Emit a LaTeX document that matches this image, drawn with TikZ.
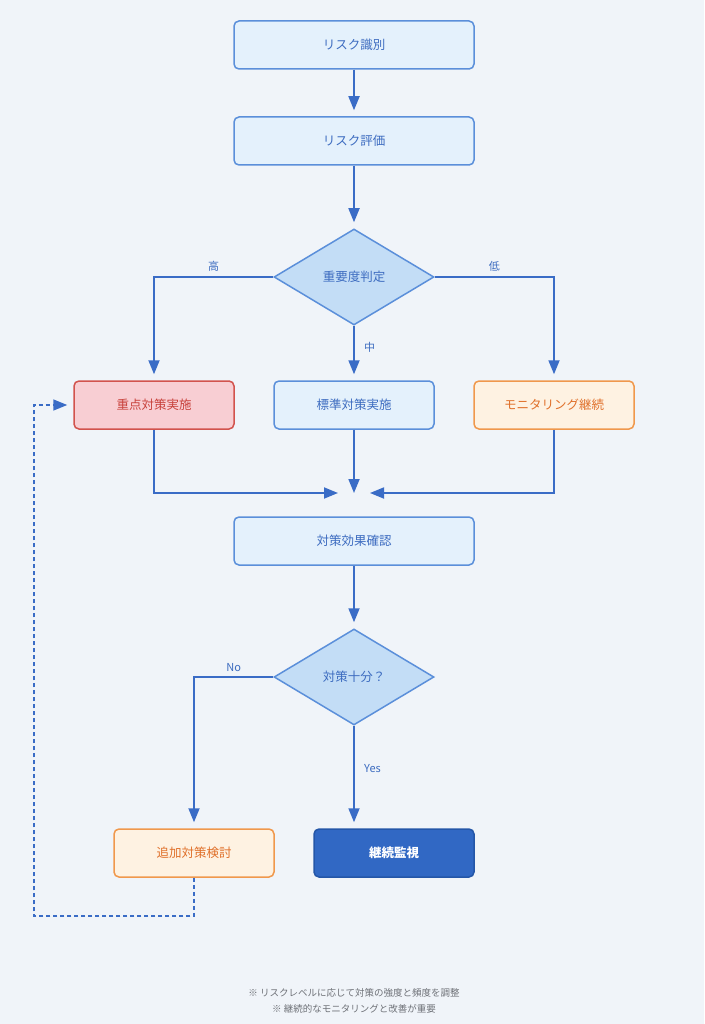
\documentclass[tikz,border=0pt]{standalone}
\usepackage{fontspec}
\setmainfont{Noto Sans CJK JP}
\usetikzlibrary{arrows.meta,shapes.geometric}
\definecolor{bgc}{HTML}{F0F4F9}
\definecolor{lnc}{HTML}{3A6CC6}
\definecolor{bluefill}{HTML}{E4F1FC}
\definecolor{blueline}{HTML}{5B8FDA}
\definecolor{bluetext}{HTML}{3D6CC0}
\definecolor{diafill}{HTML}{C3DDF6}
\definecolor{redfill}{HTML}{F8CED3}
\definecolor{redline}{HTML}{D2534D}
\definecolor{redtext}{HTML}{C8413B}
\definecolor{orfill}{HTML}{FEF2E2}
\definecolor{orline}{HTML}{F0984C}
\definecolor{ortext}{HTML}{E0702A}
\definecolor{darkfill}{HTML}{3168C4}
\definecolor{darkline}{HTML}{2456A8}
\definecolor{notec}{HTML}{6E7177}
\tikzset{
  box/.style={rectangle,rounded corners=5pt,line width=1.5pt,draw=blueline,fill=bluefill,
    text=bluetext,font=\fontsize{12.5}{14}\selectfont,minimum height=48pt,inner sep=0pt},
  bigbox/.style={box,minimum width=240pt},
  smallbox/.style={box,minimum width=160pt},
  redbox/.style={smallbox,draw=redline,fill=redfill,text=redtext},
  orbox/.style={smallbox,draw=orline,fill=orfill,text=ortext},
  darkbox/.style={smallbox,draw=darkline,fill=darkfill,text=white,font=\fontsize{12.5}{14}\selectfont\bfseries},
  decide/.style={diamond,aspect=1.6667,line width=1.5pt,draw=blueline,fill=diafill,text=bluetext,
    font=\fontsize{12.5}{14}\selectfont,minimum width=160pt,minimum height=96pt,inner sep=0pt},
  flow/.style={line width=1.8pt,draw=lnc,shorten >=6pt,-{Triangle[width=11pt,length=14pt]}},
  lbl/.style={text=bluetext,font=\fontsize{11}{13}\selectfont},
  note/.style={text=notec,font=\fontsize{9.5}{11}\selectfont}
}
\begin{document}
\begin{tikzpicture}[x=1pt,y=-1pt]
\fill[bgc] (0,0) rectangle (704,1024);
\useasboundingbox (0,0) rectangle (704,1024);

\node[bigbox] (ident) at (354,45)  {リスク識別};
\node[bigbox] (eval)  at (354,141) {リスク評価};
\node[decide] (judge) at (354,277) {重要度判定};

\node[redbox]   (high) at (154,405) {重点対策実施};
\node[smallbox] (mid)  at (354,405) {標準対策実施};
\node[orbox]    (low)  at (554,405) {モニタリング継続};

\coordinate (merge) at (354,499);
\node[bigbox] (check) at (354,541) {対策効果確認};
\node[decide] (enough) at (354,677) {対策十分？};

\node[orbox]   (more)  at (194,853) {追加対策検討};
\node[darkbox] (watch) at (394,853) {継続監視};

\draw[flow] (ident) -- (eval);
\draw[flow] (eval) -- (judge);
\draw[flow] (judge.west) -| (high.north) node[lbl,pos=0.25,above=1pt] {高};
\draw[flow] (judge.east) -| (low.north) node[lbl,pos=0.25,above=1pt] {低};
\draw[flow] (judge.south) -- (mid.north) node[lbl,pos=0.4,right=6pt] {中};

\draw[flow] (high.south) |- ([xshift=-10pt]merge |- 0,493);
\draw[flow] (mid.south) -- (merge);
\draw[flow] (low.south) |- ([xshift=10pt]merge |- 0,493);

\draw[flow] (check) -- (enough);
\draw[flow] (enough.west) -| (more.north) node[lbl,pos=0.25,above=1pt] {No};
\draw[flow] (enough.south) -- (enough.south |- watch.north) node[lbl,pos=0.42,right=6pt] {Yes};

% feedback loop
\coordinate (loopa) at (194,916);
\coordinate (loopb) at (34,916);
\draw[flow,dashed,dash pattern=on 4pt off 3pt,line width=1.5pt] (more.south) -- (loopa) -- (loopb) |- (high.west);

\node[note] (note1) at (354,993) {※ リスクレベルに応じて対策の強度と頻度を調整};
\node[note] (note2) at (354,1009) {※ 継続的なモニタリングと改善が重要};
\end{tikzpicture}
\end{document}
